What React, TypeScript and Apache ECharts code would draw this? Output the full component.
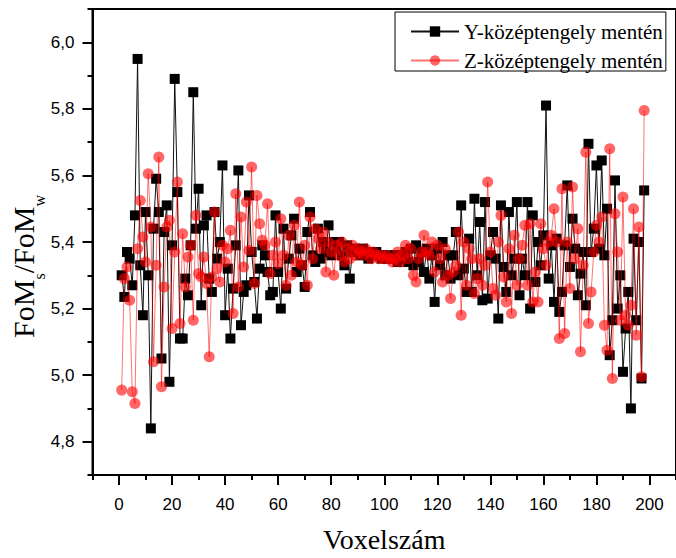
import React, { useEffect, useRef } from "react";
import * as echarts from "echarts";

const SERIF = "'Liberation Serif', 'Times New Roman', serif";
const SANS = "'Liberation Sans', Arial, sans-serif";

const seriesNames = ["Y-középtengely mentén", "Z-középtengely mentén"];

// Voxel numbers 1..198
const voxels: number[] = [
  1, 2, 3, 4, 5, 6, 7, 8, 9, 10, 11, 12, 13, 14, 15, 16, 17, 18, 19, 20,
  21, 22, 23, 24, 25, 26, 27, 28, 29, 30, 31, 32, 33, 34, 35, 36, 37, 38, 39, 40,
  41, 42, 43, 44, 45, 46, 47, 48, 49, 50, 51, 52, 53, 54, 55, 56, 57, 58, 59, 60,
  61, 62, 63, 64, 65, 66, 67, 68, 69, 70, 71, 72, 73, 74, 75, 76, 77, 78, 79, 80,
  81, 82, 83, 84, 85, 86, 87, 88, 89, 90, 91, 92, 93, 94, 95, 96, 97, 98, 99, 100,
  101, 102, 103, 104, 105, 106, 107, 108, 109, 110, 111, 112, 113, 114, 115, 116, 117, 118, 119, 120,
  121, 122, 123, 124, 125, 126, 127, 128, 129, 130, 131, 132, 133, 134, 135, 136, 137, 138, 139, 140,
  141, 142, 143, 144, 145, 146, 147, 148, 149, 150, 151, 152, 153, 154, 155, 156, 157, 158, 159, 160,
  161, 162, 163, 164, 165, 166, 167, 168, 169, 170, 171, 172, 173, 174, 175, 176, 177, 178, 179, 180,
  181, 182, 183, 184, 185, 186, 187, 188, 189, 190, 191, 192, 193, 194, 195, 196, 197, 198,
];

// Y-középtengely mentén (black squares)
const yValues: number[] = [
  5.30, 5.235, 5.37, 5.35, 5.27, 5.48, 5.95, 5.33, 5.18, 5.49,
  5.30, 4.84, 5.44, 5.59, 5.49, 5.05, 5.43, 5.51, 4.98, 5.39,
  5.89, 5.55, 5.11, 5.11, 5.29, 5.24, 5.39, 5.85, 5.44, 5.56,
  5.21, 5.45, 5.48, 5.29, 5.25, 5.49, 5.35, 5.40, 5.63, 5.18,
  5.32, 5.11, 5.26, 5.39, 5.615, 5.15, 5.25, 5.27, 5.54, 5.37,
  5.28, 5.17, 5.32, 5.39, 5.36, 5.31, 5.24, 5.25, 5.48, 5.31,
  5.20, 5.44, 5.26, 5.35, 5.42, 5.47, 5.31, 5.38, 5.33, 5.265,
  5.43, 5.49, 5.36, 5.34, 5.44, 5.35, 5.40, 5.37, 5.45, 5.36,
  5.40, 5.38, 5.40, 5.36, 5.33, 5.39, 5.29, 5.37, 5.38, 5.37,
  5.36, 5.38, 5.37, 5.35, 5.37, 5.36, 5.37, 5.36, 5.35, 5.36,
  5.35, 5.36, 5.35, 5.36, 5.34, 5.36, 5.35, 5.37, 5.34, 5.38,
  5.33, 5.39, 5.34, 5.37, 5.31, 5.38, 5.29, 5.36, 5.22, 5.38,
  5.33, 5.40, 5.30, 5.36, 5.29, 5.36, 5.43, 5.30, 5.51, 5.32,
  5.25, 5.41, 5.25, 5.53, 5.30, 5.46, 5.225, 5.52, 5.23, 5.36,
  5.43, 5.35, 5.17, 5.51, 5.325, 5.25, 5.49, 5.30, 5.35, 5.52,
  5.24, 5.35, 5.30, 5.52, 5.20, 5.48, 5.28, 5.40, 5.33, 5.42,
  5.81, 5.29, 5.39, 5.22, 5.41, 5.19, 5.25, 5.39, 5.57, 5.325,
  5.47, 5.38, 5.24, 5.305, 5.37, 5.21, 5.695, 5.37, 5.44, 5.63,
  5.38, 5.645, 5.36, 5.50, 5.06, 5.165, 5.585, 5.20, 5.30, 5.01,
  5.14, 5.25, 4.90, 5.41, 5.165, 5.40, 4.99, 5.555,
];

// Z-középtengely mentén (red circles)
const zValues: number[] = [
  4.955, 5.29, 5.325, 5.225, 4.95, 4.915, 5.38, 5.525, 5.415, 5.34,
  5.605, 5.445, 5.04, 5.33, 5.655, 4.965, 5.265, 5.445, 5.465, 5.14,
  5.37, 5.58, 5.155, 5.425, 5.265, 5.355, 5.39, 5.165, 5.48, 5.305,
  5.295, 5.355, 5.275, 5.055, 5.295, 5.49, 5.32, 5.28, 5.39, 5.34,
  5.38, 5.435, 5.185, 5.545, 5.265, 5.475, 5.325, 5.52, 5.375, 5.625,
  5.275, 5.54, 5.455, 5.405, 5.39, 5.515, 5.305, 5.36, 5.40, 5.335,
  5.47, 5.36, 5.27, 5.42, 5.30, 5.45, 5.34, 5.52, 5.33, 5.39,
  5.27, 5.475, 5.35, 5.44, 5.41, 5.38, 5.43, 5.31, 5.40, 5.37,
  5.30, 5.39, 5.36, 5.40, 5.34, 5.38, 5.35, 5.39, 5.36, 5.38,
  5.37, 5.36, 5.38, 5.37, 5.35, 5.37, 5.36, 5.35, 5.36, 5.35,
  5.36, 5.35, 5.34, 5.35, 5.37, 5.34, 5.36, 5.39, 5.35, 5.38,
  5.30, 5.28, 5.35, 5.37, 5.42, 5.37, 5.36, 5.40, 5.31, 5.39,
  5.35, 5.28, 5.38, 5.30, 5.23, 5.31, 5.33, 5.43, 5.18, 5.40,
  5.27, 5.38, 5.35, 5.245, 5.29, 5.35, 5.27, 5.33, 5.58, 5.37,
  5.26, 5.24, 5.40, 5.48, 5.295, 5.22, 5.38, 5.185, 5.42, 5.27,
  5.35, 5.39, 5.45, 5.27, 5.455, 5.22, 5.31, 5.22, 5.455, 5.38,
  5.33, 5.40, 5.42, 5.50, 5.40, 5.11, 5.56, 5.125, 5.40, 5.26,
  5.565, 5.35, 5.44, 5.07, 5.33, 5.67, 5.155, 5.25, 5.37, 5.45,
  5.40, 5.475, 5.15, 5.075, 5.68, 4.99, 5.485, 5.37, 5.165, 5.535,
  5.18, 5.15, 5.21, 5.50, 5.12, 5.445, 4.995, 5.795,
];

const xMajorTicks = [0, 20, 40, 60, 80, 100, 120, 140, 160, 180, 200];
const xMinorTicks = [-10, 10, 30, 50, 70, 90, 110, 130, 150, 170, 190, 210];
const yMajorTicks = [4.8, 5.0, 5.2, 5.4, 5.6, 5.8, 6.0];
const yMinorTicks = [4.7, 4.9, 5.1, 5.3, 5.5, 5.7, 5.9, 6.1];

export default function App() {
  const ref = useRef<HTMLDivElement>(null);

  useEffect(() => {
    if (!ref.current) return;
    const chart = echarts.init(ref.current, null, { renderer: "svg" });

    const yData = voxels.map((v, i) => [v, yValues[i]]);
    const zData = voxels.map((v, i) => [v, zValues[i]]);

    const axisLineStyle = { color: "#000", width: 2 };

    const option: any = {
      animation: false,
      backgroundColor: "#fff",
      grid: {
        left: 92.5,
        top: 9,
        width: 587.5,
        height: 470,
        show: true,
        borderColor: "#000",
        borderWidth: 2,
        backgroundColor: "transparent",
      },
      legend: {
        left: 395,
        top: 12,
        orient: "vertical",
        padding: [9, 3, 0, 15],
        itemGap: 8,
        itemWidth: 48,
        itemHeight: 13,
        borderColor: "#000",
        borderWidth: 1,
        borderRadius: 0,
        textStyle: { fontFamily: SERIF, fontSize: 21, color: "#000", lineHeight: 20 },
        data: seriesNames,
      },
      xAxis: [
        {
          type: "value",
          min: -10,
          max: 210,
          position: "bottom",
          name: "Voxelszám",
          nameLocation: "middle",
          nameGap: 50,
          nameTextStyle: { fontFamily: SERIF, fontSize: 28, color: "#000" },
          axisLine: { show: true, onZero: false, lineStyle: axisLineStyle },
          axisTick: { show: true, inside: false, length: 10, lineStyle: axisLineStyle, customValues: xMajorTicks },
          axisLabel: {
            show: true,
            customValues: xMajorTicks,
            margin: 21,
            fontFamily: SANS,
            fontSize: 17,
            color: "#000",
          },
          splitLine: { show: false },
        },
        {
          type: "value",
          min: -10,
          max: 210,
          position: "bottom",
          axisLine: { show: false, onZero: false },
          axisTick: { show: true, inside: false, length: 5, lineStyle: axisLineStyle, customValues: xMinorTicks },
          axisLabel: { show: false },
          splitLine: { show: false },
        },
      ],
      yAxis: [
        {
          type: "value",
          min: 4.7,
          max: 6.1,
          position: "left",
          axisLine: { show: true, onZero: false, lineStyle: axisLineStyle },
          axisTick: { show: true, inside: false, length: 10, lineStyle: axisLineStyle, customValues: yMajorTicks },
          axisLabel: {
            show: true,
            customValues: yMajorTicks,
            margin: 18,
            fontFamily: SANS,
            fontSize: 17,
            color: "#000",
            formatter: (v: number) => v.toFixed(1).replace(".", ","),
          },
          splitLine: { show: false },
        },
        {
          type: "value",
          min: 4.7,
          max: 6.1,
          position: "left",
          axisLine: { show: false, onZero: false },
          axisTick: { show: true, inside: false, length: 5, lineStyle: axisLineStyle, customValues: yMinorTicks },
          axisLabel: { show: false },
          splitLine: { show: false },
        },
      ],
      graphic: [
        {
          type: "group",
          x: 23,
          y: 338,
          rotation: Math.PI / 2,
          children: [
            { type: "text", x: 0, y: 0, style: { text: "FoM", fontSize: 30, fontFamily: SERIF, fill: "#000", align: "left", verticalAlign: "middle" } },
            { type: "text", x: 58.4, y: 16, style: { text: "s", fontSize: 16, fontFamily: SERIF, fill: "#000", align: "left", verticalAlign: "middle" } },
            { type: "text", x: 64.8, y: 0, style: { text: "/FoM", fontSize: 30, fontFamily: SERIF, fill: "#000", align: "left", verticalAlign: "middle" } },
            { type: "text", x: 131.5, y: 16, style: { text: "w", fontSize: 16, fontFamily: SERIF, fill: "#000", align: "left", verticalAlign: "middle" } },
          ],
        },
      ],
      series: [
        {
          name: seriesNames[0],
          type: "line",
          xAxisIndex: 0,
          yAxisIndex: 0,
          data: yData,
          symbol: "rect",
          symbolSize: 10,
          showAllSymbol: true,
          lineStyle: { color: "#111", width: 1 },
          itemStyle: { color: "#000" },
          z: 2,
        },
        {
          name: seriesNames[1],
          type: "line",
          xAxisIndex: 0,
          yAxisIndex: 0,
          data: zData,
          symbol: "circle",
          symbolSize: 11,
          showAllSymbol: true,
          lineStyle: { color: "#ff0000", width: 1, opacity: 0.55 },
          itemStyle: { color: "#ff0000", opacity: 0.6 },
          z: 3,
        },
      ],
    };

    chart.setOption(option);
    return () => chart.dispose();
  }, []);

  return (
    <div
      ref={ref}
      style={{ position: "absolute", left: 0, top: 0, width: 676, height: 558, background: "#fff" }}
    />
  );
}
